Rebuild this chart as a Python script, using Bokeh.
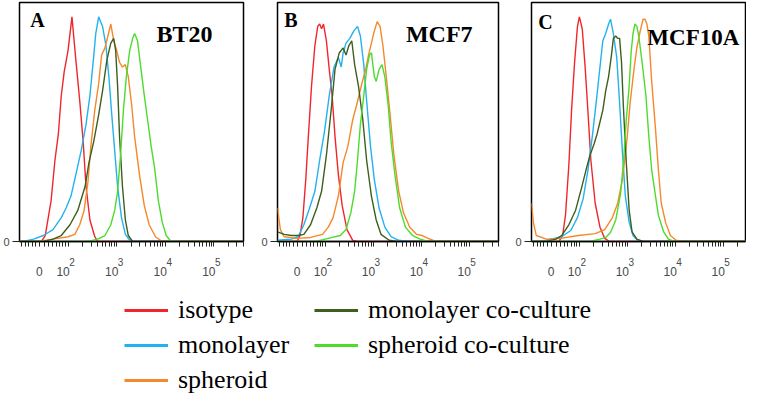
from bokeh.plotting import figure
from bokeh.models import Range1d, FixedTicker, Label, Legend, LegendItem, LinearAxis
from bokeh.layouts import column, row
from bokeh.embed import file_html
from bokeh.resources import INLINE
import math

# ---------------- data (x in display decades of the logicle axis, y in % of frame height)
SERIES = ["isotype", "monolayer", "spheroid", "monolayer co-culture", "spheroid co-culture"]
COLORS = ["#f0262b", "#22b2ee", "#f5882c", "#3e5e1e", "#4cdc2c"]

MAJOR_TICKS = [1.41, 2, 3, 4, 5]
TICK_BASES = ["0", "10", "10", "10", "10"]
TICK_EXPONENTS = ["", "2", "3", "4", "5"]

PANEL_LETTERS = ["A", "B", "C"]
PANEL_NAMES = ["BT20", "MCF7", "MCF10A"]

# Panel A (BT20)
A_iso_x = [1.0, 1.45, 1.53, 1.65, 1.73, 1.80, 1.86, 1.92, 2.00, 2.08, 2.16, 2.24, 2.31, 2.37, 2.45, 2.55, 2.61, 5.6]
A_iso_y = [0, 0, 2.5, 17, 34, 45, 61, 71, 80, 94, 76, 59, 42, 23, 9, 2, 0, 0]
A_mono_x = [1.0, 1.08, 1.29, 1.49, 1.69, 1.86, 1.96, 2.06, 2.16, 2.27, 2.37, 2.45, 2.53, 2.57, 2.63, 2.71, 2.78, 2.84, 2.90, 2.96, 3.02, 3.10, 3.18, 3.29, 5.6]
A_mono_y = [0, 0, 1, 2.5, 5, 10, 14, 19, 28, 38, 49, 61, 78, 87, 94, 90, 82, 69, 53, 38, 23, 10, 3, 0, 0]
A_sph_x = [1.0, 1.39, 1.69, 2.00, 2.14, 2.24, 2.33, 2.41, 2.47, 2.55, 2.63, 2.69, 2.76, 2.82, 2.88, 2.94, 3.00, 3.06, 3.12, 3.18, 3.24, 3.31, 3.37, 3.47, 3.57, 3.67, 3.80, 3.94, 5.6]
A_sph_y = [0, 0, 1, 2, 3, 7, 13, 25, 40, 55, 66, 78, 81, 86, 91, 84, 80, 75, 73, 74, 69, 57, 44, 28, 15, 7, 2, 0, 0]
A_moco_x = [1.0, 1.49, 1.69, 1.86, 2.04, 2.20, 2.35, 2.43, 2.53, 2.63, 2.71, 2.80, 2.88, 2.94, 2.98, 3.02, 3.06, 3.12, 3.18, 3.24, 3.33, 5.6]
A_moco_y = [0, 0, 1, 2.5, 7, 13, 23, 33, 42, 53, 63, 76, 83, 85, 80, 65, 44, 23, 9, 2.5, 0, 0]
A_spco_x = [1.0, 2.41, 2.61, 2.76, 2.88, 2.96, 3.02, 3.08, 3.14, 3.20, 3.27, 3.33, 3.37, 3.43, 3.49, 3.57, 3.63, 3.71, 3.78, 3.86, 3.94, 4.02, 4.12, 5.6]
A_spco_y = [0, 0, 1, 2.5, 7, 13, 21, 36, 55, 69, 80, 85, 87, 84, 74, 61, 52, 40, 31, 17, 8, 2.5, 0, 0]

# Panel B (MCF7)
B_iso_x = [1.0, 1.41, 1.47, 1.53, 1.59, 1.65, 1.71, 1.78, 1.84, 1.88, 1.92, 1.96, 2.02, 2.08, 2.14, 2.20, 2.27, 2.35, 2.45, 2.57, 2.67, 5.6]
B_iso_y = [0, 0, 2.5, 10, 26, 46, 65, 82, 90, 91, 89, 91, 84, 72, 61, 44, 28, 15, 5, 0.5, 0, 0]
B_mono_x = [1.0, 1.29, 1.43, 1.55, 1.67, 1.78, 1.88, 1.98, 2.08, 2.18, 2.27, 2.33, 2.37, 2.43, 2.51, 2.59, 2.67, 2.73, 2.80, 2.86, 2.94, 3.02, 3.12, 3.24, 3.37, 3.53, 3.73, 5.6]
B_mono_y = [0.5, 1, 2, 7, 14, 21, 34, 46, 61, 73, 77, 73, 79, 83, 85, 88, 90, 86, 74, 59, 40, 26, 14, 6, 2, 0.5, 0, 0]
B_sph_x = [1.0, 1.06, 1.14, 1.39, 1.69, 1.94, 2.06, 2.16, 2.27, 2.37, 2.47, 2.57, 2.65, 2.76, 2.84, 2.90, 2.96, 3.02, 3.08, 3.14, 3.20, 3.27, 3.35, 3.43, 3.53, 3.63, 3.76, 3.90, 4.02, 4.14, 4.31, 5.6]
B_sph_y = [14, 5, 2, 1.3, 1.7, 3, 6, 10, 19, 33, 40, 51, 57, 66, 72, 78, 83, 88, 92, 90, 82, 69, 53, 36, 21, 12, 6, 3, 2.5, 1.3, 0, 0]
B_moco_x = [1.0, 1.14, 1.29, 1.43, 1.55, 1.69, 1.82, 1.92, 2.02, 2.12, 2.20, 2.29, 2.37, 2.43, 2.49, 2.55, 2.61, 2.69, 2.78, 2.86, 2.96, 3.06, 3.16, 3.33, 3.49, 5.6]
B_moco_y = [4, 3, 2.5, 2.5, 3, 7, 14, 21, 36, 55, 72, 79, 81, 78, 82, 84, 74, 65, 51, 34, 19, 9, 3, 0.5, 0, 0]
B_spco_x = [1.0, 1.80, 2.06, 2.31, 2.43, 2.53, 2.61, 2.67, 2.73, 2.80, 2.86, 2.92, 2.96, 3.02, 3.06, 3.12, 3.18, 3.24, 3.31, 3.37, 3.45, 3.55, 3.67, 3.82, 3.98, 4.14, 5.6]
B_spco_y = [0, 0, 1.3, 2.5, 5, 12, 21, 34, 49, 61, 72, 78, 79, 69, 67, 72, 74, 69, 57, 42, 28, 14, 6, 2.5, 1, 0, 0]

# Panel C (MCF10A)
C_iso_x = [1.0, 1.57, 1.65, 1.71, 1.78, 1.84, 1.90, 1.96, 2.00, 2.06, 2.12, 2.18, 2.24, 2.33, 2.43, 2.53, 2.63, 5.6]
C_iso_y = [0, 0, 2.5, 11, 32, 56, 75, 90, 94, 89, 73, 54, 34, 16, 6, 1.3, 0, 0]
C_mono_x = [1.0, 1.20, 1.41, 1.63, 1.82, 1.96, 2.08, 2.18, 2.27, 2.35, 2.43, 2.49, 2.55, 2.61, 2.65, 2.71, 2.78, 2.84, 2.90, 2.96, 3.04, 3.12, 3.24, 5.6]
C_mono_y = [0, 0, 1, 2, 4.6, 10, 18, 30, 44, 58, 73, 84, 87, 91, 93, 87, 77, 58, 37, 19, 8, 2.5, 0, 0]
C_sph_x = [1.0, 1.04, 1.10, 1.31, 1.61, 1.98, 2.33, 2.53, 2.69, 2.80, 2.90, 3.00, 3.06, 3.14, 3.20, 3.27, 3.33, 3.37, 3.41, 3.45, 3.51, 3.59, 3.65, 3.71, 3.80, 3.90, 4.02, 4.16, 5.6]
C_sph_y = [16, 8, 2.5, 1, 1.3, 2.5, 3.3, 5, 10, 16, 26, 44, 58, 72, 81, 88, 93, 93, 91, 86, 67, 47, 30, 16, 8, 2.5, 0.5, 0, 0]
C_moco_x = [1.0, 1.31, 1.51, 1.63, 1.78, 1.92, 2.04, 2.14, 2.22, 2.31, 2.37, 2.43, 2.49, 2.55, 2.61, 2.67, 2.71, 2.76, 2.80, 2.84, 2.88, 2.92, 2.98, 3.04, 3.10, 3.20, 3.33, 5.6]
C_moco_y = [0, 0, 1, 2.5, 7, 13, 22, 30, 36, 41, 45, 50, 55, 63, 69, 78, 85, 86, 85, 85, 75, 56, 33, 13, 4, 1, 0, 0]
C_spco_x = [1.0, 2.22, 2.43, 2.55, 2.65, 2.76, 2.86, 2.92, 2.98, 3.04, 3.08, 3.12, 3.16, 3.20, 3.24, 3.31, 3.39, 3.45, 3.51, 3.59, 3.65, 3.76, 3.86, 3.98, 5.6]
C_spco_y = [0, 0, 1, 1.7, 3.8, 9, 20, 33, 51, 65, 79, 87, 91, 90, 86, 75, 61, 44, 30, 19, 11, 4, 1, 0, 0]

PANELS = [
    [(A_iso_x, A_iso_y), (A_mono_x, A_mono_y), (A_sph_x, A_sph_y), (A_moco_x, A_moco_y), (A_spco_x, A_spco_y)],
    [(B_iso_x, B_iso_y), (B_mono_x, B_mono_y), (B_sph_x, B_sph_y), (B_moco_x, B_moco_y), (B_spco_x, B_spco_y)],
    [(C_iso_x, C_iso_y), (C_mono_x, C_mono_y), (C_sph_x, C_sph_y), (C_moco_x, C_moco_y), (C_spco_x, C_spco_y)],
]

# minor ticks of the logicle axis (the major positions get drawn as ticks too)
MINOR_TICKS = [1.05, 1.12, 1.19, 1.26, 1.33, 1.52, 1.60, 1.68, 1.76, 1.83, 1.89, 1.94] + MAJOR_TICKS
for d in (2, 3, 4, 5):
    for k in range(2, 10):
        MINOR_TICKS.append(d + math.log10(k))

PX_PER_DEC = 49.0
FRAME_H = 239
ROW_H = 285
TOP = 2
EXP_SHIFT = 4.0 / PX_PER_DEC      # exponent sits right of the tick
BASE_SHIFT = -5.0 / PX_PER_DEC    # "10" sits slightly left of the tick

EXP_POS = [t + EXP_SHIFT for t, e in zip(MAJOR_TICKS, TICK_EXPONENTS) if e]
EXP_TXT = [e for e in TICK_EXPONENTS if e]
BASE_POS = [t + (BASE_SHIFT if e else 0.0) for t, e in zip(MAJOR_TICKS, TICK_EXPONENTS)]

# layout: (fig width, left border, right border, frame width, letter pos, name pos, name size)
LAYOUT = [
    (258, 17, 15, 226, (1.22, 92.5), (3.82, 87.0), "24px"),
    (254, 14, 14, 226, (1.14, 92.5), (3.68, 87.0), "24px"),
    (234, 14, 1, 219, (1.14, 92.0), (3.42, 85.5), "23px"),
]

figs = []
for i, curves in enumerate(PANELS):
    w, bl, br, fw, lpos, npos, nsize = LAYOUT[i]
    p = figure(width=w, height=ROW_H, x_range=Range1d(1.0, 1.0 + fw / PX_PER_DEC),
               y_range=Range1d(0, 100), output_backend="svg", toolbar_location=None,
               min_border_left=bl, min_border_right=br, min_border_top=TOP,
               min_border_bottom=ROW_H - TOP - FRAME_H)
    p.grid.visible = False
    p.outline_line_color = "black"
    p.outline_line_width = 1.5
    p.background_fill_color = "white"

    # axis 0: frame line, ticks and superscript exponents
    xa = p.xaxis[0]
    xa.ticker = FixedTicker(ticks=EXP_POS, minor_ticks=MINOR_TICKS)
    xa.major_label_overrides = {t: e for t, e in zip(EXP_POS, EXP_TXT)}
    xa.axis_line_color = "black"
    xa.axis_line_width = 1.5
    xa.major_tick_in = 0
    xa.major_tick_out = 0
    xa.minor_tick_in = 0
    xa.minor_tick_out = 5
    xa.minor_tick_line_color = "#222222"
    xa.major_label_standoff = 11
    xa.major_label_text_font = "Liberation Sans"
    xa.major_label_text_font_size = "10px"
    xa.major_label_text_color = "#4a4a4a"

    # axis 1: the "0" / "10" labels
    xb = LinearAxis(ticker=FixedTicker(ticks=BASE_POS, minor_ticks=[]),
                    major_label_overrides={t: b for t, b in zip(BASE_POS, TICK_BASES)},
                    axis_line_color=None, major_tick_line_color=None, minor_tick_line_color=None,
                    major_tick_out=0, major_tick_in=0, minor_tick_out=0, minor_tick_in=0,
                    major_label_standoff=-2, major_label_text_font="Liberation Sans",
                    major_label_text_font_size="12px", major_label_text_color="#4a4a4a")
    p.add_layout(xb, "below")

    ya = p.yaxis[0]
    ya.ticker = FixedTicker(ticks=[0], minor_ticks=[])
    ya.axis_line_color = None
    ya.major_tick_in = 0
    ya.major_tick_out = 7
    ya.major_tick_line_color = "#222222"
    ya.major_label_standoff = 3
    ya.major_label_text_font = "Liberation Sans"
    ya.major_label_text_font_size = "11px"
    ya.major_label_text_color = "#4a4a4a"

    for (xs, ys), c in zip(curves, COLORS):
        p.line(xs, ys, line_color=c, line_width=1.4)

    p.add_layout(Label(x=lpos[0], y=lpos[1], text=PANEL_LETTERS[i], text_font="Liberation Serif",
                       text_font_style="bold", text_font_size="20px", text_baseline="middle",
                       text_color="black"))
    p.add_layout(Label(x=npos[0], y=npos[1], text=PANEL_NAMES[i], text_font="Liberation Serif",
                       text_font_style="bold", text_font_size=nsize, text_baseline="middle",
                       text_color="black"))
    figs.append(p)

# legend figure (legend renderers reuse panel A data, kept out of view)
LEG_H = 110
lf = figure(width=746, height=LEG_H, x_range=Range1d(100, 101), y_range=Range1d(100, 101),
            output_backend="svg", toolbar_location=None, min_border=0)
lf.axis.visible = False
lf.grid.visible = False
lf.outline_line_color = None
rends = [lf.line(xs, ys, line_color=c, line_width=3) for (xs, ys), c in zip(PANELS[0], COLORS)]


def make_legend(idx, loc):
    return Legend(items=[LegendItem(label=SERIES[j], renderers=[rends[j]]) for j in idx],
                  location=loc, orientation="vertical", glyph_width=44, glyph_height=20,
                  label_standoff=10, spacing=5, padding=0, margin=0, border_line_color=None,
                  background_fill_alpha=0, label_text_font="Liberation Serif",
                  label_text_font_size="26px", label_text_color="black")


lf.add_layout(make_legend([0, 1, 2], (124, 0)))
lf.add_layout(make_legend([3, 4], (314, 35)))

layout = column(row(*figs, spacing=0), lf, spacing=0)
open("out.html", "w").write(file_html(layout, INLINE))
